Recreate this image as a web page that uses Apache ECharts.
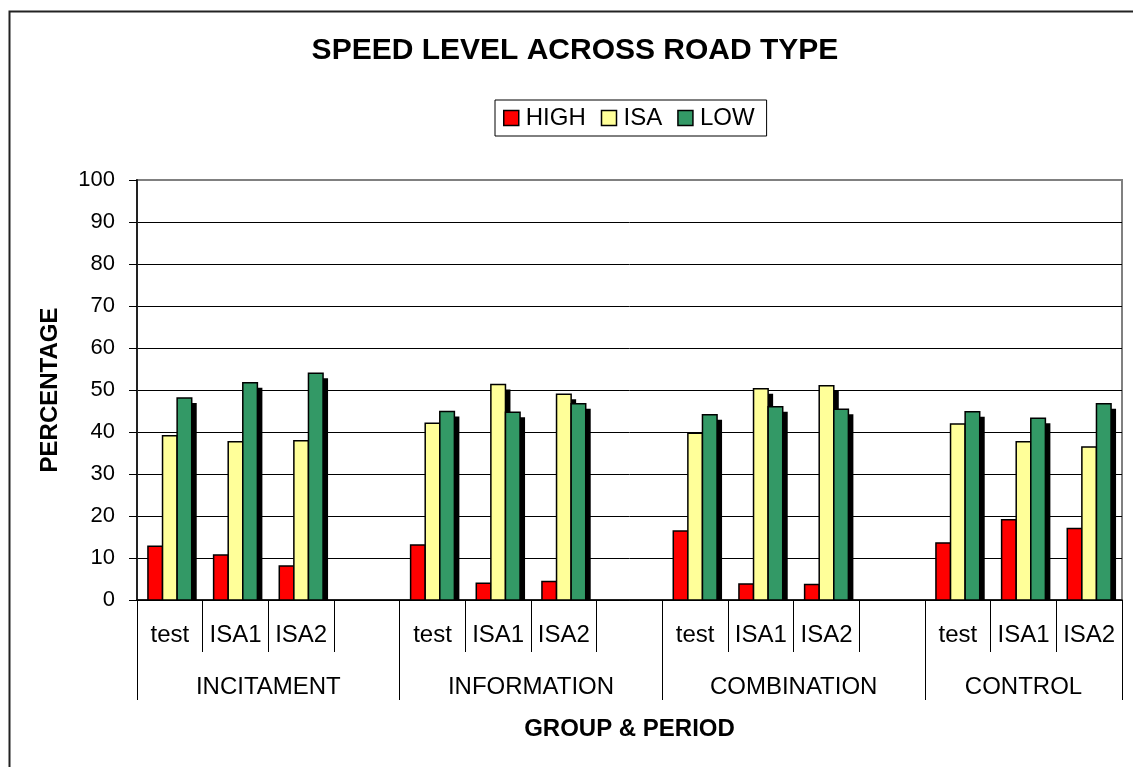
<!DOCTYPE html>
<html>
<head>
<meta charset="utf-8">
<script src="https://cdn.jsdelivr.net/npm/echarts@6/dist/echarts.min.js"></script>
<style>
html,body{margin:0;padding:0;background:#fff;}
#chart{width:1133px;height:767px;}
</style>
</head>
<body>
<div id="chart"></div>
<script>
// ---- data ----
var categories = ['test','ISA1','ISA2','', 'test','ISA1','ISA2','', 'test','ISA1','ISA2','', 'test','ISA1','ISA2'];
var groupNames = ['INCITAMENT','INFORMATION','COMBINATION','CONTROL'];
var groupCenters = [2, 6, 10, 13.5];
var groupBounds = [0, 4, 8, 12, 15];
var seriesNames = ['HIGH','ISA','LOW'];
var highValues = [12.8, 10.7, 8.1, null, 13.1, 4.0, 4.4, null, 16.4, 3.8, 3.7, null, 13.6, 19.1, 17.0];
var isaValues  = [39.1, 37.7, 37.9, null, 42.1, 51.3, 49.0, null, 39.7, 50.3, 51.0, null, 41.9, 37.7, 36.4];
var lowValues  = [48.1, 51.7, 54.0, null, 44.9, 44.7, 46.7, null, 44.1, 46.0, 45.4, null, 44.8, 43.3, 46.7];
var yTicks = [0,10,20,30,40,50,60,70,80,90,100];

var colors = ['#FF0000', '#FFFF99', '#339966'];
var FONT = 'Liberation Sans, Arial, sans-serif';

function toData(arr) {
  return arr.map(function (v, i) { return [i, v == null ? '-' : v]; });
}

function makeSeries(name, arr, idx) {
  return {
    name: name,
    type: 'custom',
    xAxisIndex: 0,
    yAxisIndex: 0,
    itemStyle: { color: colors[idx], borderColor: '#000', borderWidth: 1.5 },
    data: toData(arr),
    renderItem: function (params, api) {
      var v = api.value(1);
      if (v == null || isNaN(v)) return;
      var cat = api.value(0);
      var top = api.coord([cat, v]);
      var base = api.coord([cat, 0]);
      var slot = api.size([1, 0])[0];
      var bw = slot / 4.5;
      var x0 = top[0] + (idx - 1) * bw - bw / 2;
      var h = base[1] - top[1];
      return {
        type: 'group',
        children: [
          { type: 'rect', shape: { x: x0 + 5, y: top[1] + 5, width: bw, height: Math.max(0, h - 5) },
            style: { fill: '#000' } },
          { type: 'rect', shape: { x: x0, y: top[1], width: bw, height: h },
            style: { fill: colors[idx], stroke: '#000', lineWidth: 1.5 } }
        ]
      };
    }
  };
}

var splitColors = yTicks.map(function (t, i) { return i === yTicks.length - 1 ? '#808080' : '#000'; });

var chart = echarts.init(document.getElementById('chart'), null, { renderer: 'canvas' });
chart.setOption({
  animation: false,
  backgroundColor: '#fff',
  textStyle: { fontFamily: FONT, color: '#000' },
  graphic: [
    { type: 'rect', left: 7, top: 9, shape: { x: 0, y: 0, width: 1160, height: 800 },
      style: { fill: 'none', stroke: '#222', lineWidth: 2 }, z: -1 }
  ],
  title: {
    text: 'SPEED LEVEL ACROSS ROAD TYPE',
    left: 575, top: 36, padding: 0, textAlign: 'center',
    textStyle: { fontFamily: FONT, fontSize: 30, fontWeight: 'bold', color: '#000' }
  },
  legend: {
    left: 495, top: 100,
    padding: [6, 12, 6, 8],
    borderColor: '#000', borderWidth: 1,
    itemWidth: 15, itemHeight: 15, itemGap: 15,
    icon: 'rect',
    textStyle: { fontFamily: FONT, fontSize: 24, color: '#000', padding: [0, 0, 0, 2] },
    data: seriesNames.map(function (n, i) {
      return { name: n, icon: 'rect', itemStyle: { color: colors[i], borderColor: '#000', borderWidth: 1.5 } };
    })
  },
  grid: {
    left: 137, right: 11, top: 180, bottom: 167,
    show: true, borderColor: '#808080', borderWidth: 2, backgroundColor: '#fff'
  },
  xAxis: [
    {
      type: 'category',
      data: categories,
      position: 'bottom',
      axisLine: { show: true, lineStyle: { color: '#000', width: 1.5 } },
      axisTick: { show: true, length: 52, interval: 0, lineStyle: { color: '#000', width: 1 } },
      axisLabel: { interval: 0, margin: 23, fontSize: 24, fontFamily: FONT, color: '#000' },
      splitLine: { show: false }
    },
    {
      type: 'value',
      min: 0, max: 15,
      position: 'bottom',
      axisLine: { show: false },
      splitLine: { show: false },
      axisTick: { show: true, length: 100, customValues: groupBounds, lineStyle: { color: '#000', width: 1 } },
      axisLabel: {
        customValues: groupCenters, margin: 75, fontSize: 24, fontFamily: FONT, color: '#000',
        formatter: function (v) { var k = groupCenters.indexOf(v); return k >= 0 ? groupNames[k] : ''; }
      },
      name: 'GROUP & PERIOD',
      nameLocation: 'middle',
      nameGap: 117,
      nameTextStyle: { fontFamily: FONT, fontSize: 24, fontWeight: 'bold', color: '#000' }
    }
  ],
  yAxis: {
    type: 'value',
    min: 0, max: 100, interval: 10,
    axisLine: { show: true, lineStyle: { color: '#222', width: 2 } },
    axisTick: { show: true, inside: false, length: 8, lineStyle: { color: '#000', width: 1 } },
    axisLabel: { margin: 22, fontSize: 22, fontFamily: FONT, color: '#000' },
    splitLine: { show: true, lineStyle: { color: splitColors, width: 1 } },
    name: 'PERCENTAGE',
    nameLocation: 'middle',
    nameRotate: 90,
    nameGap: 75,
    nameTextStyle: { fontFamily: FONT, fontSize: 24, fontWeight: 'bold', color: '#000' }
  },
  series: [
    makeSeries('HIGH', highValues, 0),
    makeSeries('ISA', isaValues, 1),
    makeSeries('LOW', lowValues, 2)
  ]
});
</script>
</body>
</html>
